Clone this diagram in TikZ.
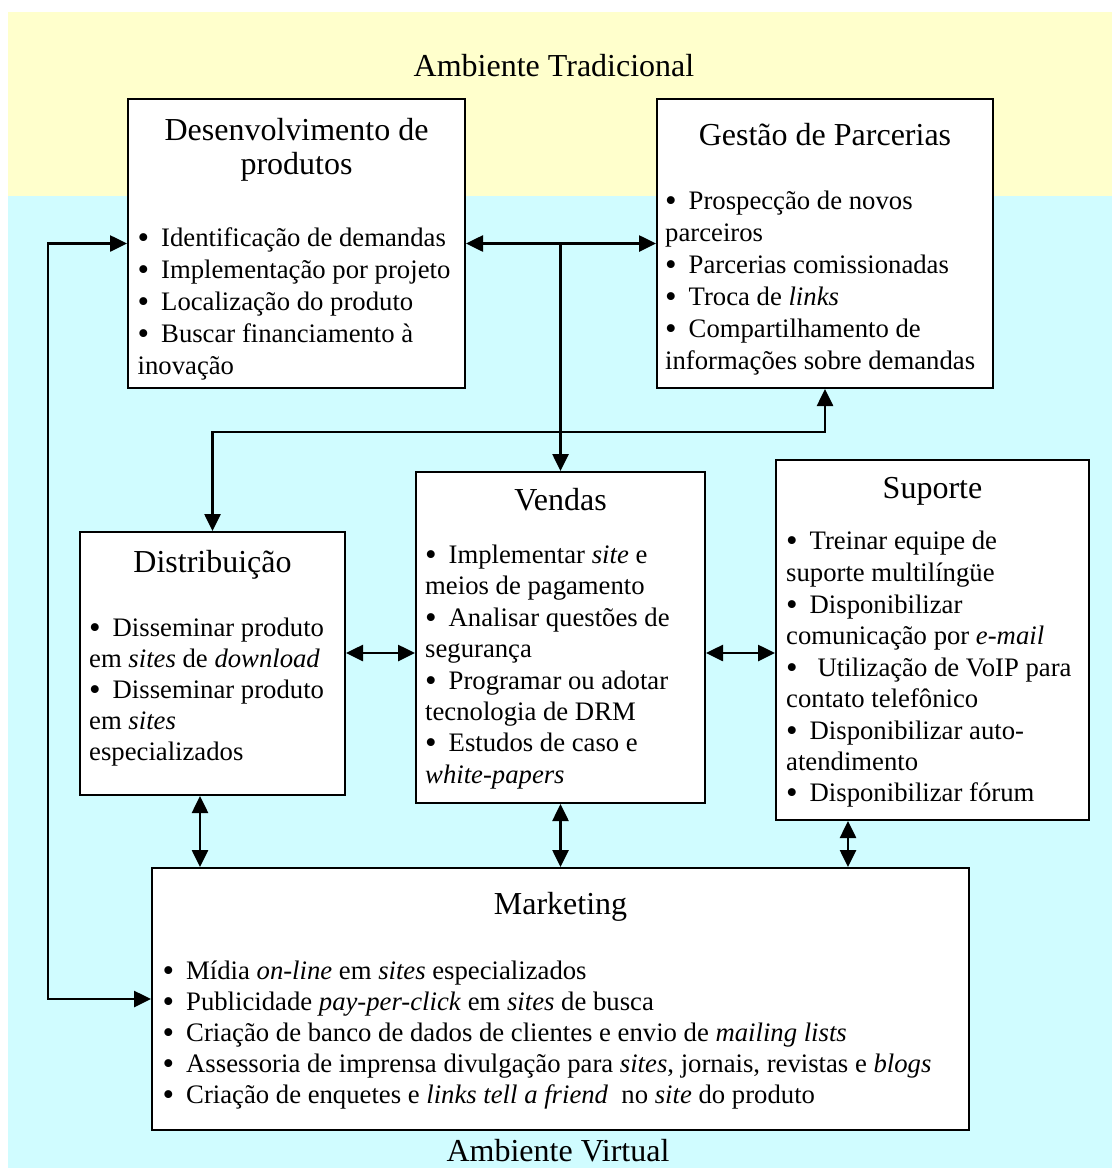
\documentclass[tikz,border=0pt]{standalone}
\usepackage{fontspec}
\setmainfont{Liberation Serif}
\usetikzlibrary{arrows.meta}
\definecolor{bgyellow}{RGB}{255,255,204}
\definecolor{bgcyan}{RGB}{208,252,255}
\newcommand{\bu}{\makebox[23.5pt][l]{\raisebox{-2pt}{\fontsize{33}{33}\selectfont •}}}
\newcommand{\tl}[4]{\node[bodytext] (#1) at (#2,#3) {#4};}
\begin{document}
\begin{tikzpicture}[x=1pt,y=-1pt,
  box/.style={draw, fill=white, line width=2pt, inner sep=0pt},
  bodytext/.style={anchor=base west, inner sep=0pt, font=\fontsize{26.7}{32}\selectfont},
  titletext/.style={anchor=base, inner sep=0pt, font=\fontsize{32}{37}\selectfont},
  tip/.tip={Triangle[length=17pt,width=16pt]},
  biarrow/.style={line width=2.6pt, tip-tip},
  endarrow/.style={line width=2.6pt, -tip}]
\useasboundingbox (0,0) rectangle (1116,1173);
\fill[bgyellow] (8,12) rectangle (1112,196);
\fill[bgcyan] (8,196) rectangle (1112,1168);

% boxes
\node[box, minimum width=337pt, minimum height=289pt] (dev) at (296.5,243.5) {};
\node[box, minimum width=336pt, minimum height=289pt] (gp) at (825,243.5) {};
\node[box, minimum width=265pt, minimum height=263pt] (dist) at (212.5,663.5) {};
\node[box, minimum width=289pt, minimum height=331pt] (vend) at (560.5,637.5) {};
\node[box, minimum width=313pt, minimum height=360pt] (sup) at (932.5,640) {};
\node[box, minimum width=817pt, minimum height=262pt] (mkt) at (560.5,999) {};

% environment labels
\node[titletext] (amtrad) at (554,76) {Ambiente Tradicional};
\node[titletext] (amvirt) at (558,1161) {Ambiente Virtual};

% Desenvolvimento
\node[titletext] (devt1) at (296.5,140) {Desenvolvimento de};
\node[titletext] (devt2) at (296.5,174) {produtos};
\tl{dev1}{137.5}{246}{\bu Identificação de demandas}
\tl{dev2}{137.5}{278}{\bu Implementação por projeto}
\tl{dev3}{137.5}{310}{\bu Localização do produto}
\tl{dev4}{137.5}{342}{\bu Buscar financiamento à}
\tl{dev5}{137.5}{374}{inovação}

% Gestao
\node[titletext] (gpt) at (825,145) {Gestão de Parcerias};
\tl{gp1}{665}{209}{\bu Prospecção de novos}
\tl{gp2}{665}{241}{parceiros}
\tl{gp3}{665}{273}{\bu Parcerias comissionadas}
\tl{gp4}{665}{305}{\bu Troca de \textit{links}}
\tl{gp5}{665}{337}{\bu Compartilhamento de}
\tl{gp6}{665}{369}{informações sobre demandas}

% Distribuicao
\node[titletext] (distt) at (212.5,572) {Distribuição};
\tl{di1}{89}{636}{\bu Disseminar produto}
\tl{di2}{89}{667}{em \textit{sites} de \textit{download}}
\tl{di3}{89}{698}{\bu Disseminar produto}
\tl{di4}{89}{729}{em \textit{sites}}
\tl{di5}{89}{760}{especializados}

% Vendas
\node[titletext] (vendt) at (560.5,510) {Vendas};
\tl{ve1}{425}{563}{\bu Implementar \textit{site} e}
\tl{ve2}{425}{594}{meios de pagamento}
\tl{ve3}{425}{626}{\bu Analisar questões de}
\tl{ve4}{425}{657}{segurança}
\tl{ve5}{425}{689}{\bu Programar ou adotar}
\tl{ve6}{425}{720}{tecnologia de DRM}
\tl{ve7}{425}{751}{\bu Estudos de caso e}
\tl{ve8}{425}{783}{\textit{white-papers}}

% Suporte
\node[titletext] (supt) at (932.5,498) {Suporte};
\tl{su1}{786}{549}{\bu Treinar equipe de}
\tl{su2}{786}{581}{suporte multilíngüe}
\tl{su3}{786}{613}{\bu Disponibilizar}
\tl{su4}{786}{644}{comunicação por \textit{e-mail}}
\tl{su5}{786}{676}{\bu\hspace{8pt}Utilização de VoIP para}
\tl{su6}{786}{707}{contato telefônico}
\tl{su7}{786}{739}{\bu Disponibilizar auto-}
\tl{su8}{786}{770}{atendimento}
\tl{su9}{786}{801}{\bu Disponibilizar fórum}

% Marketing
\node[titletext] (mktt) at (560.5,914) {Marketing};
\tl{mk1}{162.5}{979}{\bu Mídia \textit{on-line} em \textit{sites} especializados}
\tl{mk2}{162.5}{1010}{\bu Publicidade \textit{pay-per-click} em \textit{sites} de busca}
\tl{mk3}{162.5}{1041}{\bu Criação de banco de dados de clientes e envio de \textit{mailing lists}}
\tl{mk4}{162.5}{1072}{\bu Assessoria de imprensa divulgação para \textit{sites}, jornais, revistas e \textit{blogs}}
\tl{mk5}{162.5}{1103}{\bu Criação de enquetes e \textit{links tell a friend}\ \ no \textit{site} do produto}

% helper coordinates
\coordinate (hline) at (0,432);
\coordinate (hmid) at (0,653);
\coordinate (vdm) at (200,0);
\coordinate (vsm) at (848,0);

% connectors
\draw[biarrow] (dev.west) -- ++(-79,0) |- (mkt.west);
\draw[biarrow] (dev.east) -- (gp.west);
\draw[endarrow] (vend.north |- dev.east) -- (vend.north);
\draw[biarrow] (dist.north) -- (dist.north |- hline) -| (gp.south);
\draw[biarrow] (dist.east |- hmid) -- (vend.west |- hmid);
\draw[biarrow] (vend.east |- hmid) -- (sup.west |- hmid);
\draw[biarrow] (dist.south -| vdm) -- (mkt.north -| vdm);
\draw[biarrow] (vend.south) -- (mkt.north -| vend.south);
\draw[biarrow] (sup.south -| vsm) -- (mkt.north -| vsm);
\end{tikzpicture}
\end{document}
